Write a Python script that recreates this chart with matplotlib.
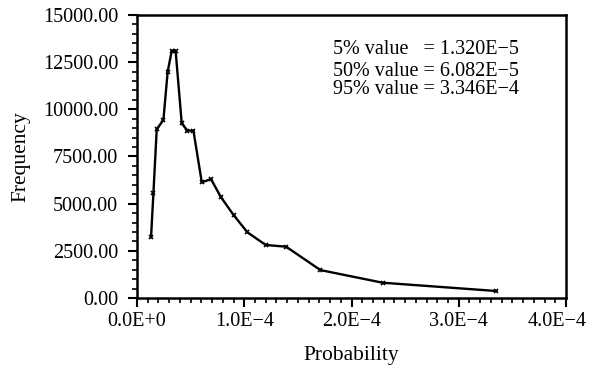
import numpy as np
import matplotlib.pyplot as plt
from matplotlib.ticker import MultipleLocator, FuncFormatter
import matplotlib.transforms as mtransforms

plt.rcParams['font.family'] = ['Liberation Serif', 'DejaVu Serif']

prob = [1.31e-5, 1.53e-5, 1.84e-5, 2.46e-5, 2.86e-5, 3.24e-5, 3.60e-5, 4.17e-5,
        4.70e-5, 5.26e-5, 6.04e-5, 6.90e-5, 7.80e-5, 9.00e-5, 1.03e-4, 1.20e-4,
        1.39e-4, 1.71e-4, 2.29e-4, 3.35e-4]
freq = [3220, 5550, 8950, 9430, 12000, 13100, 13100, 9260,
        8870, 8870, 6130, 6300, 5370, 4400, 3480, 2810,
        2720, 1480, 810, 370]
x_ticks = [0.0, 1e-4, 2e-4, 3e-4, 4e-4]
x_tick_labels = ['0.0E+0', '1.0E\u22124', '2.0E\u22124', '3.0E\u22124', '4.0E\u22124']
stats = ['5% value   = 1.320E\u22125',
         '50% value = 6.082E\u22125',
         '95% value = 3.346E\u22124']

fig = plt.figure(figsize=(5.89, 3.70), dpi=100)
ax = fig.add_axes([0.2326, 0.1946, 0.9610 - 0.2326, 0.9595 - 0.1946])

ax.plot(prob, freq, color='black', lw=1.7, marker='x', ms=3.5, mew=1.2)

ax.set_xlim(0, 4e-4)
ax.set_ylim(0, 15000)
ax.set_xticks(x_ticks)
ax.set_xticklabels(x_tick_labels)
ax.xaxis.set_minor_locator(MultipleLocator(1e-5))
ax.yaxis.set_major_locator(MultipleLocator(2500))
ax.yaxis.set_minor_locator(MultipleLocator(500))
ax.yaxis.set_major_formatter(FuncFormatter(lambda v, p: f'{v:.2f}'))

ax.tick_params(which='major', direction='out', length=6.5, width=1.5, labelsize=14.5)
ax.tick_params(axis='y', which='major', pad=7)
ax.tick_params(axis='x', which='major', pad=3.5)
ax.tick_params(which='minor', direction='out', length=3.6, width=1.2)
for s in ax.spines.values():
    s.set_linewidth(1.8)

# last x label sits a little left so it stays inside the figure
last = ax.get_xticklabels()[-1]
last.set_transform(last.get_transform() + mtransforms.ScaledTranslation(-9 / 100, 0, fig.dpi_scale_trans))

ax.set_xlabel('Probability', fontsize=15.5, labelpad=11)
ax.set_ylabel('Frequency', fontsize=15.5, labelpad=9)

ys = [0.862, 0.784, 0.721]
for t, y in zip(stats, ys):
    ax.text(0.458, y, t, transform=ax.transAxes, fontsize=14.5, va='baseline', ha='left')

fig.savefig('out.png', dpi=100)
